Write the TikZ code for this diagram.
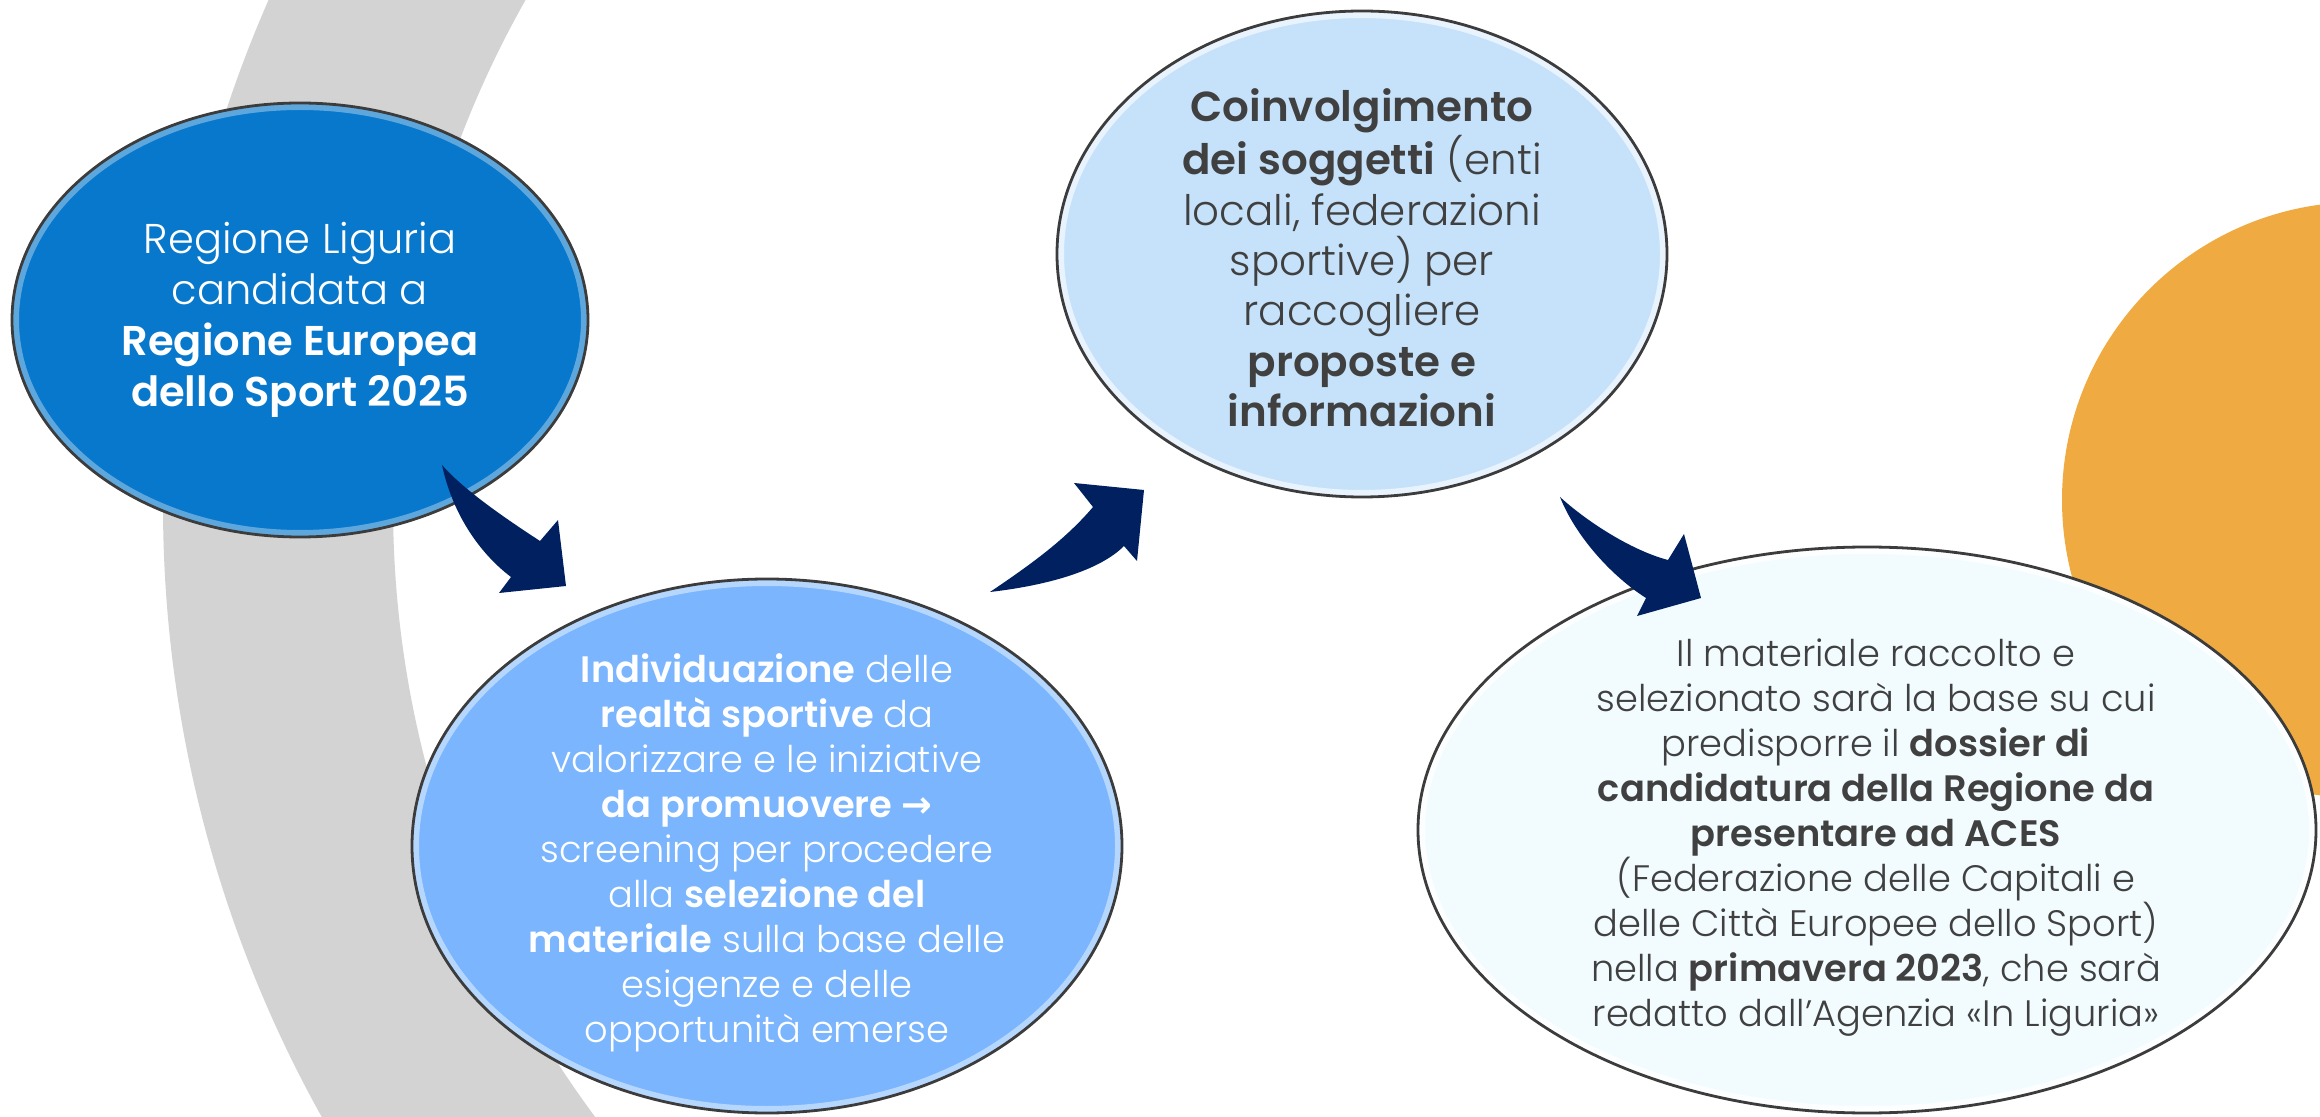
\documentclass[tikz,border=0pt]{standalone}
\usepackage{fontspec}
\setmainfont{Poppins}[UprightFont={* Light},BoldFont={* SemiBold}]
\newfontfamily\arrowfont{DejaVu Sans}
\usetikzlibrary{shapes.geometric,positioning,calc}

\definecolor{ringgray}{HTML}{D3D3D3}
\definecolor{sunorange}{HTML}{EFAB42}
\definecolor{navyarrow}{HTML}{00205F}
\definecolor{rimgray}{HTML}{3C3C3C}
\definecolor{textgray}{HTML}{404040}
\definecolor{blueA}{HTML}{0878CC}
\definecolor{blueB}{HTML}{7AB5FD}
\definecolor{blueC}{HTML}{C6E2FA}
\definecolor{blueD}{HTML}{F2FCFF}

\begin{document}
\begin{tikzpicture}[x=0.5pt,y=-0.5pt,on grid,
    bevel/.style={path picture={
        \draw[white, opacity=#1, line width=7pt]
          let \p1=(path picture bounding box.north east),
              \p2=(path picture bounding box.center)
          in (\p2) ellipse [x radius=\x1-\x2, y radius=\y1-\y2];}},
    stage/.style={ellipse, draw=rimgray, line width=1.4pt, inner sep=0pt},
    light/.style={text=white, align=center, inner sep=0pt},
    dark/.style={text=textgray, align=center, inner sep=0pt},
    bigarrow/.style={fill=navyarrow}
  ]
  \useasboundingbox (0,0) rectangle (2320,1117);

  % background ring (left part only) and sun
  \begin{scope}
    \clip (0,0) rectangle (1300,1117);
    \fill[ringgray, even odd rule] (1420,505) circle [radius=1257]
                                   (1420,505) circle [radius=1027];
  \end{scope}
  \begin{scope}
    \clip (0,0) rectangle (2320,1117);
    \fill[sunorange] (2360,500) circle [radius=298];
  \end{scope}

  % the four steps
  \node[stage, fill=blueA, bevel=0.35, minimum width=288pt, minimum height=217pt] (e_1) at (300,320) {};
  \node[stage, fill=blueB, bevel=0.45, minimum width=355pt, minimum height=267pt] (e_2) [below right=263pt and 233.5pt of e_1] {};
  \node[stage, fill=blueC, bevel=0.6, minimum width=305pt, minimum height=243pt] (e_3) [above right=296pt and 297.5pt of e_2] {};
  \node[stage, fill=blueD, bevel=0.8, minimum width=449pt, minimum height=283pt] (e_4) [below right=288pt and 252.5pt of e_3] {};

  \node[light, font=\fontsize{20.8}{25.5}\selectfont] (t_1) at (e_1) {Regione Liguria\\candidata a\\\textbf{Regione Europea}\\\textbf{dello Sport 2025}};
  \node[light, font=\fontsize{18.4}{22.5}\selectfont] (t_2) [below=3.5pt of e_2] {\textbf{Individuazione} delle\\\textbf{realtà sportive} da\\valorizzare e le iniziative\\\textbf{da promuovere {\arrowfont →}}\\screening per procedere\\alla \textbf{selezione del}\\\textbf{materiale} sulla base delle\\esigenze e delle\\opportunità emerse};
  \node[dark, font=\fontsize{21}{25.2}\selectfont] (t_3) [below=2pt of e_3] {\textbf{Coinvolgimento}\\\textbf{dei soggetti} (enti\\locali, federazioni\\sportive) per\\raccogliere\\\textbf{proposte e}\\\textbf{informazioni}};
  \node[dark, font=\fontsize{18.4}{22.5}\selectfont] (t_4) [below right=4pt and 4.5pt of e_4] {Il materiale raccolto e\\selezionato sarà la base su cui\\predisporre il \textbf{dossier di}\\\textbf{candidatura della Regione da}\\\textbf{presentare ad ACES}\\(Federazione delle Capitali e\\delle Città Europee dello Sport)\\nella \textbf{primavera 2023}, che sarà\\redatto dall’Agenzia «In Liguria»};

  % curved block arrows
  \coordinate (a_1s) at (442,465);
  \coordinate (a_1e) at (566,586);
  \fill[bigarrow] (a_1s) .. controls (452,512) and (478,552) .. (511,577)
    -- (499,593) -- (a_1e) -- (558,520) -- (540,541)
    .. controls (500,515) and (462,488) .. (a_1s);

  \coordinate (a_2s) at (990,592);
  \coordinate (a_2e) at (1144,490);
  \fill[bigarrow] (a_2s) .. controls (1050,585) and (1100,570) .. (1124,546)
    -- (1137,561) -- (a_2e) -- (1074,483) -- (1093,507)
    .. controls (1065,540) and (1030,565) .. (a_2s);

  \coordinate (a_3s) at (1560,497);
  \coordinate (a_3e) at (1701,598);
  \fill[bigarrow] (a_3s) .. controls (1585,520) and (1630,550) .. (1668,560)
    -- (1684,534) -- (a_3e) -- (1637,616) -- (1646,598)
    .. controls (1610,575) and (1575,535) .. (a_3s);
\end{tikzpicture}
\end{document}
